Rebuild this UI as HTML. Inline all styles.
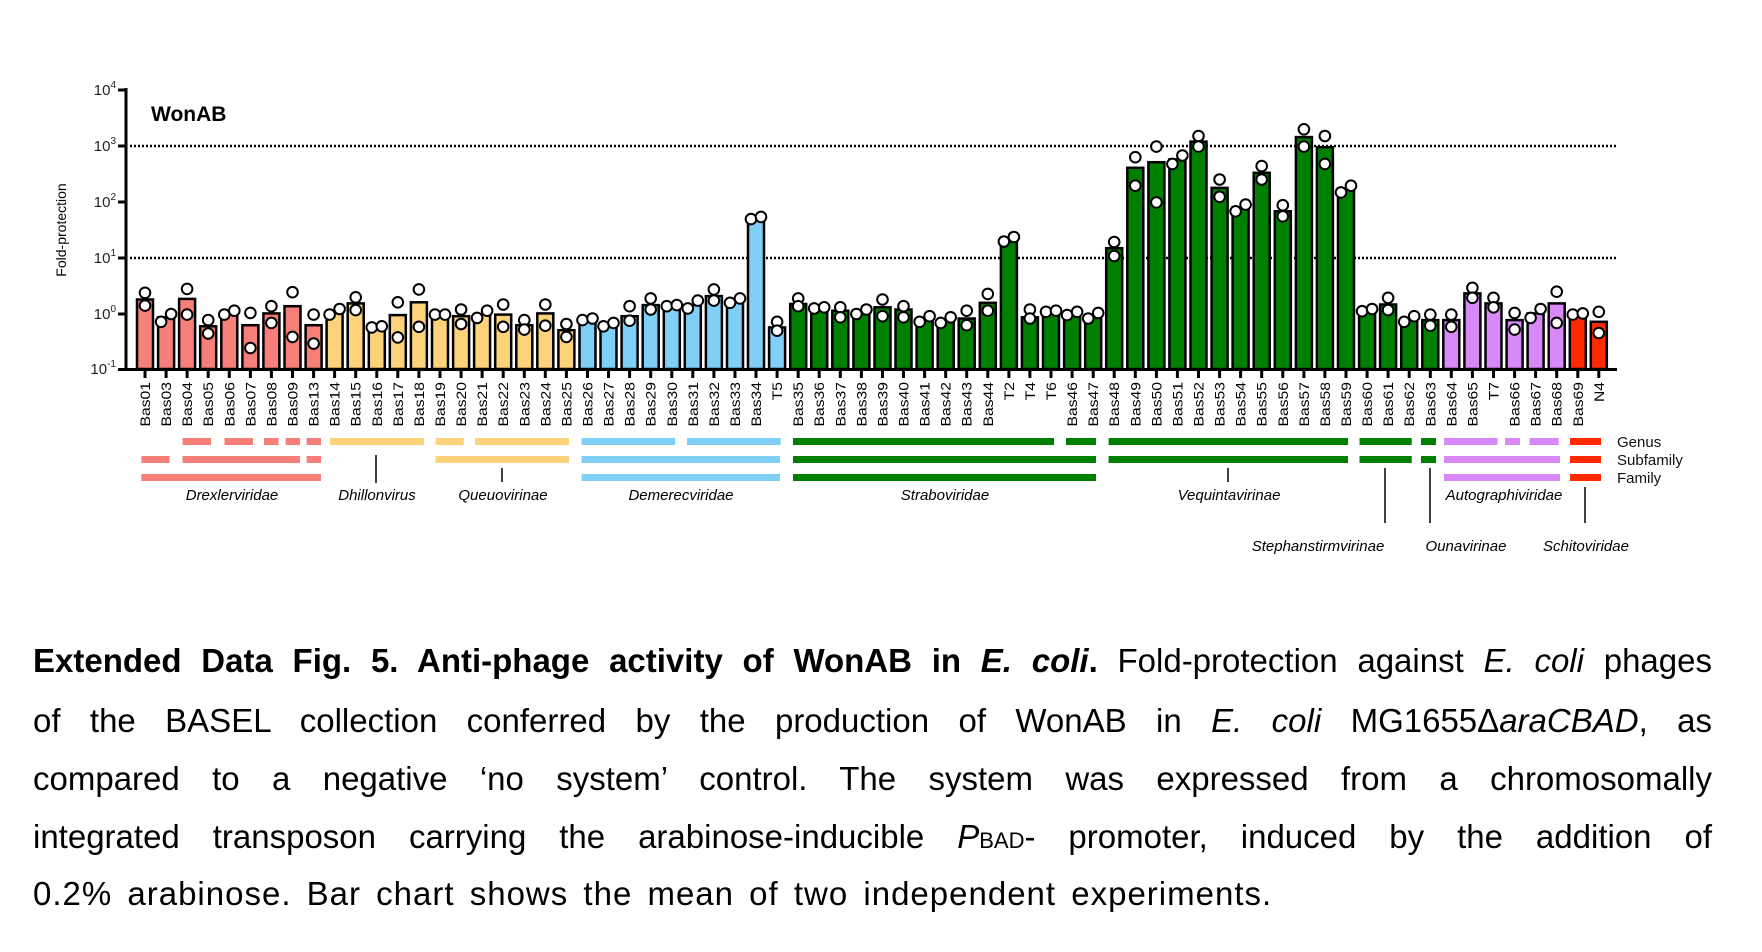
<!DOCTYPE html>
<html><head><meta charset="utf-8"><style>
html,body{margin:0;padding:0;background:#fff;}
body{width:1762px;height:952px;position:relative;overflow:hidden;font-family:"Liberation Sans",Arial,sans-serif;}
svg{position:absolute;left:0;top:0;}
.a{fill:#f77f7a}.b{fill:#fcd27b}.c{fill:#7fcff6}.d{fill:#008000}.e{fill:#d988f7}.f{fill:#ff2a00}
.bars rect{stroke:#000;stroke-width:2.5}
.dots circle{fill:#fff;stroke:#000;stroke-width:2}
.xl text{font-size:14px;fill:#000}
.tax text{font-size:15px;font-style:italic;text-anchor:middle}
.cap{position:absolute;left:33px;width:1679px;font-size:33px;line-height:33px;color:#000;white-space:nowrap;text-align:justify;text-align-last:justify;}
</style></head><body>
<svg width="1762" height="952" viewBox="0 0 1762 952">
<g font-family="Liberation Sans, Arial, sans-serif">
<line x1="130" y1="146" x2="1616" y2="146" stroke="#000" stroke-width="2.5" stroke-dasharray="2 2"/>
<line x1="130" y1="258" x2="1616" y2="258" stroke="#000" stroke-width="2.5" stroke-dasharray="2 2"/>
<g class="bars">
<rect class="a" x="137" y="299.5" width="16" height="69.5"/>
<rect class="a" x="158.1" y="317.3" width="16" height="51.7"/>
<rect class="a" x="179.1" y="298.9" width="16" height="70.1"/>
<rect class="a" x="200.2" y="326.3" width="16" height="42.7"/>
<rect class="a" x="221.3" y="314" width="16" height="55"/>
<rect class="a" x="242.4" y="325.2" width="16" height="43.8"/>
<rect class="a" x="263.4" y="313.4" width="16" height="55.6"/>
<rect class="a" x="284.5" y="306.2" width="16" height="62.8"/>
<rect class="a" x="305.6" y="325.2" width="16" height="43.8"/>
<rect class="b" x="326.6" y="311.2" width="16" height="57.8"/>
<rect class="b" x="347.7" y="303.4" width="16" height="65.6"/>
<rect class="b" x="368.8" y="326.8" width="16" height="42.2"/>
<rect class="b" x="389.8" y="315.1" width="16" height="53.9"/>
<rect class="b" x="410.9" y="302.3" width="16" height="66.7"/>
<rect class="b" x="432" y="314.6" width="16" height="54.4"/>
<rect class="b" x="453.1" y="316.2" width="16" height="52.8"/>
<rect class="b" x="474.1" y="314.6" width="16" height="54.4"/>
<rect class="b" x="495.2" y="314.6" width="16" height="54.4"/>
<rect class="b" x="516.3" y="325.2" width="16" height="43.8"/>
<rect class="b" x="537.3" y="313.4" width="16" height="55.6"/>
<rect class="b" x="558.4" y="330.2" width="16" height="38.8"/>
<rect class="c" x="579.5" y="320.1" width="16" height="48.9"/>
<rect class="c" x="600.5" y="324" width="16" height="45"/>
<rect class="c" x="621.6" y="316.2" width="16" height="52.8"/>
<rect class="c" x="642.7" y="305.1" width="16" height="63.9"/>
<rect class="c" x="663.8" y="306.2" width="16" height="62.8"/>
<rect class="c" x="684.8" y="305.1" width="16" height="63.9"/>
<rect class="c" x="705.9" y="296.1" width="16" height="72.9"/>
<rect class="c" x="727" y="300.6" width="16" height="68.4"/>
<rect class="c" x="748" y="218" width="16" height="151"/>
<rect class="c" x="769.1" y="327.4" width="16" height="41.6"/>
<rect class="d" x="790.2" y="304" width="16" height="65"/>
<rect class="d" x="811.2" y="307.3" width="16" height="61.7"/>
<rect class="d" x="832.3" y="310.7" width="16" height="58.3"/>
<rect class="d" x="853.4" y="311.8" width="16" height="57.2"/>
<rect class="d" x="874.5" y="307.3" width="16" height="61.7"/>
<rect class="d" x="895.5" y="309.5" width="16" height="59.5"/>
<rect class="d" x="916.6" y="318.5" width="16" height="50.5"/>
<rect class="d" x="937.7" y="320.7" width="16" height="48.3"/>
<rect class="d" x="958.7" y="318.5" width="16" height="50.5"/>
<rect class="d" x="979.8" y="302.8" width="16" height="66.2"/>
<rect class="d" x="1000.9" y="239.2" width="16" height="129.8"/>
<rect class="d" x="1021.9" y="317.3" width="16" height="51.7"/>
<rect class="d" x="1043" y="311.8" width="16" height="57.2"/>
<rect class="d" x="1064.1" y="314" width="16" height="55"/>
<rect class="d" x="1085.2" y="317.3" width="16" height="51.7"/>
<rect class="d" x="1106.2" y="248.2" width="16" height="120.8"/>
<rect class="d" x="1127.3" y="167.8" width="16" height="201.2"/>
<rect class="d" x="1148.4" y="162.2" width="16" height="206.8"/>
<rect class="d" x="1169.4" y="159.4" width="16" height="209.6"/>
<rect class="d" x="1190.5" y="141.6" width="16" height="227.4"/>
<rect class="d" x="1211.6" y="187.9" width="16" height="181.1"/>
<rect class="d" x="1232.6" y="207.4" width="16" height="161.6"/>
<rect class="d" x="1253.7" y="172.8" width="16" height="196.2"/>
<rect class="d" x="1274.8" y="211.3" width="16" height="157.7"/>
<rect class="d" x="1295.9" y="137.1" width="16" height="231.9"/>
<rect class="d" x="1316.9" y="147.2" width="16" height="221.8"/>
<rect class="d" x="1338" y="188.4" width="16" height="180.6"/>
<rect class="d" x="1359.1" y="311.2" width="16" height="57.8"/>
<rect class="d" x="1380.1" y="304.5" width="16" height="64.5"/>
<rect class="d" x="1401.2" y="319.6" width="16" height="49.4"/>
<rect class="d" x="1422.3" y="320.1" width="16" height="48.9"/>
<rect class="e" x="1443.3" y="320.1" width="16" height="48.9"/>
<rect class="e" x="1464.4" y="293.4" width="16" height="75.6"/>
<rect class="e" x="1485.5" y="303.4" width="16" height="65.6"/>
<rect class="e" x="1506.6" y="320.1" width="16" height="48.9"/>
<rect class="e" x="1527.6" y="313.4" width="16" height="55.6"/>
<rect class="e" x="1548.7" y="303.4" width="16" height="65.6"/>
<rect class="f" x="1569.8" y="316.8" width="16" height="52.2"/>
<rect class="f" x="1590.8" y="321.8" width="16" height="47.2"/>
</g>
<g class="dots">
<circle cx="145" cy="292.8" r="5.3"/><circle cx="145" cy="305.6" r="5.3"/>
<circle cx="161.1" cy="321.8" r="5.3"/><circle cx="171.1" cy="314" r="5.3"/>
<circle cx="187.1" cy="288.9" r="5.3"/><circle cx="187.1" cy="314.6" r="5.3"/>
<circle cx="208.2" cy="320.1" r="5.3"/><circle cx="208.2" cy="333.5" r="5.3"/>
<circle cx="224.3" cy="314.6" r="5.3"/><circle cx="234.3" cy="310.7" r="5.3"/>
<circle cx="250.4" cy="312.9" r="5.3"/><circle cx="250.4" cy="348" r="5.3"/>
<circle cx="271.4" cy="306.2" r="5.3"/><circle cx="271.4" cy="322.9" r="5.3"/>
<circle cx="292.5" cy="292.2" r="5.3"/><circle cx="292.5" cy="336.9" r="5.3"/>
<circle cx="313.6" cy="314.6" r="5.3"/><circle cx="313.6" cy="343.6" r="5.3"/>
<circle cx="329.6" cy="314.6" r="5.3"/><circle cx="339.6" cy="309" r="5.3"/>
<circle cx="355.7" cy="297.3" r="5.3"/><circle cx="355.7" cy="310.1" r="5.3"/>
<circle cx="371.8" cy="327.4" r="5.3"/><circle cx="381.8" cy="326.3" r="5.3"/>
<circle cx="397.8" cy="302.3" r="5.3"/><circle cx="397.8" cy="337.4" r="5.3"/>
<circle cx="418.9" cy="289.4" r="5.3"/><circle cx="418.9" cy="326.8" r="5.3"/>
<circle cx="435" cy="314.6" r="5.3"/><circle cx="445" cy="314.6" r="5.3"/>
<circle cx="461.1" cy="309.5" r="5.3"/><circle cx="461.1" cy="324" r="5.3"/>
<circle cx="477.1" cy="317.9" r="5.3"/><circle cx="487.1" cy="310.7" r="5.3"/>
<circle cx="503.2" cy="304.5" r="5.3"/><circle cx="503.2" cy="326.8" r="5.3"/>
<circle cx="524.3" cy="320.1" r="5.3"/><circle cx="524.3" cy="329.6" r="5.3"/>
<circle cx="545.3" cy="304.5" r="5.3"/><circle cx="545.3" cy="325.7" r="5.3"/>
<circle cx="566.4" cy="324" r="5.3"/><circle cx="566.4" cy="336.9" r="5.3"/>
<circle cx="582.5" cy="320.1" r="5.3"/><circle cx="592.5" cy="318.5" r="5.3"/>
<circle cx="603.5" cy="326.3" r="5.3"/><circle cx="613.5" cy="322.9" r="5.3"/>
<circle cx="629.6" cy="306.2" r="5.3"/><circle cx="629.6" cy="320.7" r="5.3"/>
<circle cx="650.7" cy="298.4" r="5.3"/><circle cx="650.7" cy="309.5" r="5.3"/>
<circle cx="666.8" cy="306.2" r="5.3"/><circle cx="676.8" cy="305.1" r="5.3"/>
<circle cx="687.8" cy="308.4" r="5.3"/><circle cx="697.8" cy="300.6" r="5.3"/>
<circle cx="713.9" cy="289.4" r="5.3"/><circle cx="713.9" cy="300.6" r="5.3"/>
<circle cx="730" cy="302.8" r="5.3"/><circle cx="740" cy="298.4" r="5.3"/>
<circle cx="751" cy="219.1" r="5.3"/><circle cx="761" cy="216.9" r="5.3"/>
<circle cx="777.1" cy="321.8" r="5.3"/><circle cx="777.1" cy="330.7" r="5.3"/>
<circle cx="798.2" cy="298.4" r="5.3"/><circle cx="798.2" cy="306.2" r="5.3"/>
<circle cx="814.2" cy="308.4" r="5.3"/><circle cx="824.2" cy="307.3" r="5.3"/>
<circle cx="840.3" cy="307.3" r="5.3"/><circle cx="840.3" cy="317.3" r="5.3"/>
<circle cx="856.4" cy="314" r="5.3"/><circle cx="866.4" cy="309.5" r="5.3"/>
<circle cx="882.5" cy="299.5" r="5.3"/><circle cx="882.5" cy="316.2" r="5.3"/>
<circle cx="903.5" cy="306.2" r="5.3"/><circle cx="903.5" cy="317.3" r="5.3"/>
<circle cx="919.6" cy="321.8" r="5.3"/><circle cx="929.6" cy="316.2" r="5.3"/>
<circle cx="940.7" cy="322.9" r="5.3"/><circle cx="950.7" cy="317.3" r="5.3"/>
<circle cx="966.7" cy="310.7" r="5.3"/><circle cx="966.7" cy="325.2" r="5.3"/>
<circle cx="987.8" cy="293.9" r="5.3"/><circle cx="987.8" cy="310.7" r="5.3"/>
<circle cx="1003.9" cy="241.5" r="5.3"/><circle cx="1013.9" cy="237" r="5.3"/>
<circle cx="1029.9" cy="309.5" r="5.3"/><circle cx="1029.9" cy="318.5" r="5.3"/>
<circle cx="1046" cy="311.8" r="5.3"/><circle cx="1056" cy="310.7" r="5.3"/>
<circle cx="1067.1" cy="315.1" r="5.3"/><circle cx="1077.1" cy="311.8" r="5.3"/>
<circle cx="1088.2" cy="318.5" r="5.3"/><circle cx="1098.2" cy="312.9" r="5.3"/>
<circle cx="1114.2" cy="242" r="5.3"/><circle cx="1114.2" cy="256" r="5.3"/>
<circle cx="1135.3" cy="157.2" r="5.3"/><circle cx="1135.3" cy="185.7" r="5.3"/>
<circle cx="1156.4" cy="146.6" r="5.3"/><circle cx="1156.4" cy="202.4" r="5.3"/>
<circle cx="1172.4" cy="163.9" r="5.3"/><circle cx="1182.4" cy="155.5" r="5.3"/>
<circle cx="1198.5" cy="136" r="5.3"/><circle cx="1198.5" cy="146.6" r="5.3"/>
<circle cx="1219.6" cy="179.5" r="5.3"/><circle cx="1219.6" cy="196.8" r="5.3"/>
<circle cx="1235.6" cy="211.3" r="5.3"/><circle cx="1245.6" cy="204.6" r="5.3"/>
<circle cx="1261.7" cy="166.1" r="5.3"/><circle cx="1261.7" cy="179.5" r="5.3"/>
<circle cx="1282.8" cy="205.2" r="5.3"/><circle cx="1282.8" cy="216.3" r="5.3"/>
<circle cx="1303.9" cy="129.3" r="5.3"/><circle cx="1303.9" cy="146.6" r="5.3"/>
<circle cx="1324.9" cy="136" r="5.3"/><circle cx="1324.9" cy="163.9" r="5.3"/>
<circle cx="1341" cy="192.4" r="5.3"/><circle cx="1351" cy="185.7" r="5.3"/>
<circle cx="1362.1" cy="311.2" r="5.3"/><circle cx="1372.1" cy="309" r="5.3"/>
<circle cx="1388.1" cy="297.8" r="5.3"/><circle cx="1388.1" cy="310.1" r="5.3"/>
<circle cx="1404.2" cy="321.8" r="5.3"/><circle cx="1414.2" cy="316.2" r="5.3"/>
<circle cx="1430.3" cy="314.6" r="5.3"/><circle cx="1430.3" cy="325.7" r="5.3"/>
<circle cx="1451.3" cy="314.6" r="5.3"/><circle cx="1451.3" cy="326.8" r="5.3"/>
<circle cx="1472.4" cy="287.8" r="5.3"/><circle cx="1472.4" cy="297.8" r="5.3"/>
<circle cx="1493.5" cy="297.8" r="5.3"/><circle cx="1493.5" cy="307.3" r="5.3"/>
<circle cx="1514.6" cy="312.9" r="5.3"/><circle cx="1514.6" cy="329.6" r="5.3"/>
<circle cx="1530.6" cy="317.9" r="5.3"/><circle cx="1540.6" cy="309" r="5.3"/>
<circle cx="1556.7" cy="291.7" r="5.3"/><circle cx="1556.7" cy="322.9" r="5.3"/>
<circle cx="1572.8" cy="314.6" r="5.3"/><circle cx="1582.8" cy="313.4" r="5.3"/>
<circle cx="1598.8" cy="311.8" r="5.3"/><circle cx="1598.8" cy="333" r="5.3"/>
</g>
<line x1="126" y1="88" x2="126" y2="371" stroke="#000" stroke-width="3"/>
<line x1="124.5" y1="369.5" x2="1617" y2="369.5" stroke="#000" stroke-width="3"/>
<path d="M118 90H126M118 146H126M118 202H126M118 258H126M118 314H126M118 369.5H126" stroke="#000" stroke-width="3"/>
<path stroke="#000" stroke-width="3" d="M145 370v8M166.1 370v8M187.1 370v8M208.2 370v8M229.3 370v8M250.4 370v8M271.4 370v8M292.5 370v8M313.6 370v8M334.6 370v8M355.7 370v8M376.8 370v8M397.8 370v8M418.9 370v8M440 370v8M461.1 370v8M482.1 370v8M503.2 370v8M524.3 370v8M545.3 370v8M566.4 370v8M587.5 370v8M608.5 370v8M629.6 370v8M650.7 370v8M671.8 370v8M692.8 370v8M713.9 370v8M735 370v8M756 370v8M777.1 370v8M798.2 370v8M819.2 370v8M840.3 370v8M861.4 370v8M882.5 370v8M903.5 370v8M924.6 370v8M945.7 370v8M966.7 370v8M987.8 370v8M1008.9 370v8M1029.9 370v8M1051 370v8M1072.1 370v8M1093.2 370v8M1114.2 370v8M1135.3 370v8M1156.4 370v8M1177.4 370v8M1198.5 370v8M1219.6 370v8M1240.6 370v8M1261.7 370v8M1282.8 370v8M1303.9 370v8M1324.9 370v8M1346 370v8M1367.1 370v8M1388.1 370v8M1409.2 370v8M1430.3 370v8M1451.3 370v8M1472.4 370v8M1493.5 370v8M1514.6 370v8M1535.6 370v8M1556.7 370v8M1577.8 370v8M1598.8 370v8"/>
<g font-size="15" text-anchor="end" fill="#222">
<text x="116" y="95">10<tspan font-size="10" dy="-7">4</tspan></text>
<text x="116" y="151">10<tspan font-size="10" dy="-7">3</tspan></text>
<text x="116" y="207">10<tspan font-size="10" dy="-7">2</tspan></text>
<text x="116" y="263">10<tspan font-size="10" dy="-7">1</tspan></text>
<text x="116" y="319">10<tspan font-size="10" dy="-7">0</tspan></text>
<text x="116" y="374">10<tspan font-size="10" dy="-7">-1</tspan></text>
</g>
<text transform="translate(66,230) rotate(-90)" font-size="14" text-anchor="middle">Fold-protection</text>
<text x="151" y="121" font-size="21" font-weight="bold">WonAB</text>
<g class="xl" text-anchor="end">
<text transform="translate(150,382) rotate(-90) scale(1.12,1)">Bas01</text>
<text transform="translate(171.1,382) rotate(-90) scale(1.12,1)">Bas03</text>
<text transform="translate(192.1,382) rotate(-90) scale(1.12,1)">Bas04</text>
<text transform="translate(213.2,382) rotate(-90) scale(1.12,1)">Bas05</text>
<text transform="translate(234.3,382) rotate(-90) scale(1.12,1)">Bas06</text>
<text transform="translate(255.4,382) rotate(-90) scale(1.12,1)">Bas07</text>
<text transform="translate(276.4,382) rotate(-90) scale(1.12,1)">Bas08</text>
<text transform="translate(297.5,382) rotate(-90) scale(1.12,1)">Bas09</text>
<text transform="translate(318.6,382) rotate(-90) scale(1.12,1)">Bas13</text>
<text transform="translate(339.6,382) rotate(-90) scale(1.12,1)">Bas14</text>
<text transform="translate(360.7,382) rotate(-90) scale(1.12,1)">Bas15</text>
<text transform="translate(381.8,382) rotate(-90) scale(1.12,1)">Bas16</text>
<text transform="translate(402.8,382) rotate(-90) scale(1.12,1)">Bas17</text>
<text transform="translate(423.9,382) rotate(-90) scale(1.12,1)">Bas18</text>
<text transform="translate(445,382) rotate(-90) scale(1.12,1)">Bas19</text>
<text transform="translate(466.1,382) rotate(-90) scale(1.12,1)">Bas20</text>
<text transform="translate(487.1,382) rotate(-90) scale(1.12,1)">Bas21</text>
<text transform="translate(508.2,382) rotate(-90) scale(1.12,1)">Bas22</text>
<text transform="translate(529.3,382) rotate(-90) scale(1.12,1)">Bas23</text>
<text transform="translate(550.3,382) rotate(-90) scale(1.12,1)">Bas24</text>
<text transform="translate(571.4,382) rotate(-90) scale(1.12,1)">Bas25</text>
<text transform="translate(592.5,382) rotate(-90) scale(1.12,1)">Bas26</text>
<text transform="translate(613.5,382) rotate(-90) scale(1.12,1)">Bas27</text>
<text transform="translate(634.6,382) rotate(-90) scale(1.12,1)">Bas28</text>
<text transform="translate(655.7,382) rotate(-90) scale(1.12,1)">Bas29</text>
<text transform="translate(676.8,382) rotate(-90) scale(1.12,1)">Bas30</text>
<text transform="translate(697.8,382) rotate(-90) scale(1.12,1)">Bas31</text>
<text transform="translate(718.9,382) rotate(-90) scale(1.12,1)">Bas32</text>
<text transform="translate(740,382) rotate(-90) scale(1.12,1)">Bas33</text>
<text transform="translate(761,382) rotate(-90) scale(1.12,1)">Bas34</text>
<text transform="translate(782.1,382) rotate(-90) scale(1.12,1)">T5</text>
<text transform="translate(803.2,382) rotate(-90) scale(1.12,1)">Bas35</text>
<text transform="translate(824.2,382) rotate(-90) scale(1.12,1)">Bas36</text>
<text transform="translate(845.3,382) rotate(-90) scale(1.12,1)">Bas37</text>
<text transform="translate(866.4,382) rotate(-90) scale(1.12,1)">Bas38</text>
<text transform="translate(887.5,382) rotate(-90) scale(1.12,1)">Bas39</text>
<text transform="translate(908.5,382) rotate(-90) scale(1.12,1)">Bas40</text>
<text transform="translate(929.6,382) rotate(-90) scale(1.12,1)">Bas41</text>
<text transform="translate(950.7,382) rotate(-90) scale(1.12,1)">Bas42</text>
<text transform="translate(971.7,382) rotate(-90) scale(1.12,1)">Bas43</text>
<text transform="translate(992.8,382) rotate(-90) scale(1.12,1)">Bas44</text>
<text transform="translate(1013.9,382) rotate(-90) scale(1.12,1)">T2</text>
<text transform="translate(1034.9,382) rotate(-90) scale(1.12,1)">T4</text>
<text transform="translate(1056,382) rotate(-90) scale(1.12,1)">T6</text>
<text transform="translate(1077.1,382) rotate(-90) scale(1.12,1)">Bas46</text>
<text transform="translate(1098.2,382) rotate(-90) scale(1.12,1)">Bas47</text>
<text transform="translate(1119.2,382) rotate(-90) scale(1.12,1)">Bas48</text>
<text transform="translate(1140.3,382) rotate(-90) scale(1.12,1)">Bas49</text>
<text transform="translate(1161.4,382) rotate(-90) scale(1.12,1)">Bas50</text>
<text transform="translate(1182.4,382) rotate(-90) scale(1.12,1)">Bas51</text>
<text transform="translate(1203.5,382) rotate(-90) scale(1.12,1)">Bas52</text>
<text transform="translate(1224.6,382) rotate(-90) scale(1.12,1)">Bas53</text>
<text transform="translate(1245.6,382) rotate(-90) scale(1.12,1)">Bas54</text>
<text transform="translate(1266.7,382) rotate(-90) scale(1.12,1)">Bas55</text>
<text transform="translate(1287.8,382) rotate(-90) scale(1.12,1)">Bas56</text>
<text transform="translate(1308.9,382) rotate(-90) scale(1.12,1)">Bas57</text>
<text transform="translate(1329.9,382) rotate(-90) scale(1.12,1)">Bas58</text>
<text transform="translate(1351,382) rotate(-90) scale(1.12,1)">Bas59</text>
<text transform="translate(1372.1,382) rotate(-90) scale(1.12,1)">Bas60</text>
<text transform="translate(1393.1,382) rotate(-90) scale(1.12,1)">Bas61</text>
<text transform="translate(1414.2,382) rotate(-90) scale(1.12,1)">Bas62</text>
<text transform="translate(1435.3,382) rotate(-90) scale(1.12,1)">Bas63</text>
<text transform="translate(1456.3,382) rotate(-90) scale(1.12,1)">Bas64</text>
<text transform="translate(1477.4,382) rotate(-90) scale(1.12,1)">Bas65</text>
<text transform="translate(1498.5,382) rotate(-90) scale(1.12,1)">T7</text>
<text transform="translate(1519.6,382) rotate(-90) scale(1.12,1)">Bas66</text>
<text transform="translate(1540.6,382) rotate(-90) scale(1.12,1)">Bas67</text>
<text transform="translate(1561.7,382) rotate(-90) scale(1.12,1)">Bas68</text>
<text transform="translate(1582.8,382) rotate(-90) scale(1.12,1)">Bas69</text>
<text transform="translate(1603.8,382) rotate(-90) scale(1.12,1)">N4</text>
</g>
<g>
<rect class="a" x="182.5" y="438" width="28.5" height="7"/>
<rect class="a" x="224.5" y="438" width="28.5" height="7"/>
<rect class="a" x="264" y="438" width="14.5" height="7"/>
<rect class="a" x="285.6" y="438" width="14.4" height="7"/>
<rect class="a" x="306.6" y="438" width="14.4" height="7"/>
<rect class="b" x="330" y="438" width="94" height="7"/>
<rect class="b" x="435.6" y="438" width="28.1" height="7"/>
<rect class="b" x="475" y="438" width="94" height="7"/>
<rect class="c" x="581.6" y="438" width="93.4" height="7"/>
<rect class="c" x="687" y="438" width="93.7" height="7"/>
<rect class="d" x="793" y="438" width="261" height="7"/>
<rect class="d" x="1066" y="438" width="30" height="7"/>
<rect class="d" x="1108.6" y="438" width="239.4" height="7"/>
<rect class="d" x="1359.5" y="438" width="52.2" height="7"/>
<rect class="d" x="1421" y="438" width="15" height="7"/>
<rect class="e" x="1444" y="438" width="53.5" height="7"/>
<rect class="e" x="1505" y="438" width="15" height="7"/>
<rect class="e" x="1529.5" y="438" width="29.2" height="7"/>
<rect class="f" x="1570" y="438" width="31" height="7"/>
<rect class="a" x="141.4" y="456" width="28.2" height="7"/>
<rect class="a" x="182.5" y="456" width="117.5" height="7"/>
<rect class="a" x="306.6" y="456" width="14.4" height="7"/>
<rect class="b" x="435.6" y="456" width="133.4" height="7"/>
<rect class="c" x="581.6" y="456" width="198.4" height="7"/>
<rect class="d" x="793" y="456" width="303" height="7"/>
<rect class="d" x="1108.6" y="456" width="239.4" height="7"/>
<rect class="d" x="1359.5" y="456" width="52.2" height="7"/>
<rect class="d" x="1421" y="456" width="15" height="7"/>
<rect class="e" x="1444" y="456" width="116" height="7"/>
<rect class="f" x="1570" y="456" width="31" height="7"/>
<rect class="a" x="141.4" y="474" width="179.6" height="7"/>
<rect class="c" x="581.6" y="474" width="198.4" height="7"/>
<rect class="d" x="793" y="474" width="303" height="7"/>
<rect class="e" x="1444" y="474" width="116" height="7"/>
<rect class="f" x="1570" y="474" width="31" height="7"/>
</g>
<path stroke="#000" stroke-width="1.5" d="M376 455V483M502 468V482M1228 468V482M1385 468V523M1430 468V523M1585 487V523"/>
<g font-size="15" fill="#111">
<text x="1617" y="447">Genus</text>
<text x="1617" y="465">Subfamily</text>
<text x="1617" y="483">Family</text>
</g>
<g class="tax">
<text x="232" y="500">Drexlerviridae</text>
<text x="377" y="500">Dhillonvirus</text>
<text x="503" y="500">Queuovirinae</text>
<text x="681" y="500">Demerecviridae</text>
<text x="945" y="500">Straboviridae</text>
<text x="1229" y="500">Vequintavirinae</text>
<text x="1504" y="500">Autographiviridae</text>
<text x="1318" y="551">Stephanstirmvirinae</text>
<text x="1466" y="551">Ounavirinae</text>
<text x="1586" y="551">Schitoviridae</text>
</g>
</g>
</svg>
<div class="cap" style="top:644px;"><b>Extended Data Fig. 5. Anti-phage activity of WonAB in <i>E. coli</i>.</b> Fold-protection against <i>E. coli</i> phages</div>
<div class="cap" style="top:704px;">of the BASEL collection conferred by the production of WonAB in <i>E. coli</i> MG1655Δ<i>araCBAD</i>, as</div>
<div class="cap" style="top:762px;">compared to a negative ‘no system’ control. The system was expressed from a chromosomally</div>
<div class="cap" style="top:820px;">integrated transposon carrying the arabinose-inducible <i>P</i><span style="font-size:22px">BAD</span>- promoter, induced by the addition of</div>
<div class="cap" style="top:877px;text-align:left;text-align-last:left;letter-spacing:1px;word-spacing:5px;">0.2% arabinose. Bar chart shows the mean of two independent experiments.</div>
</body></html>
